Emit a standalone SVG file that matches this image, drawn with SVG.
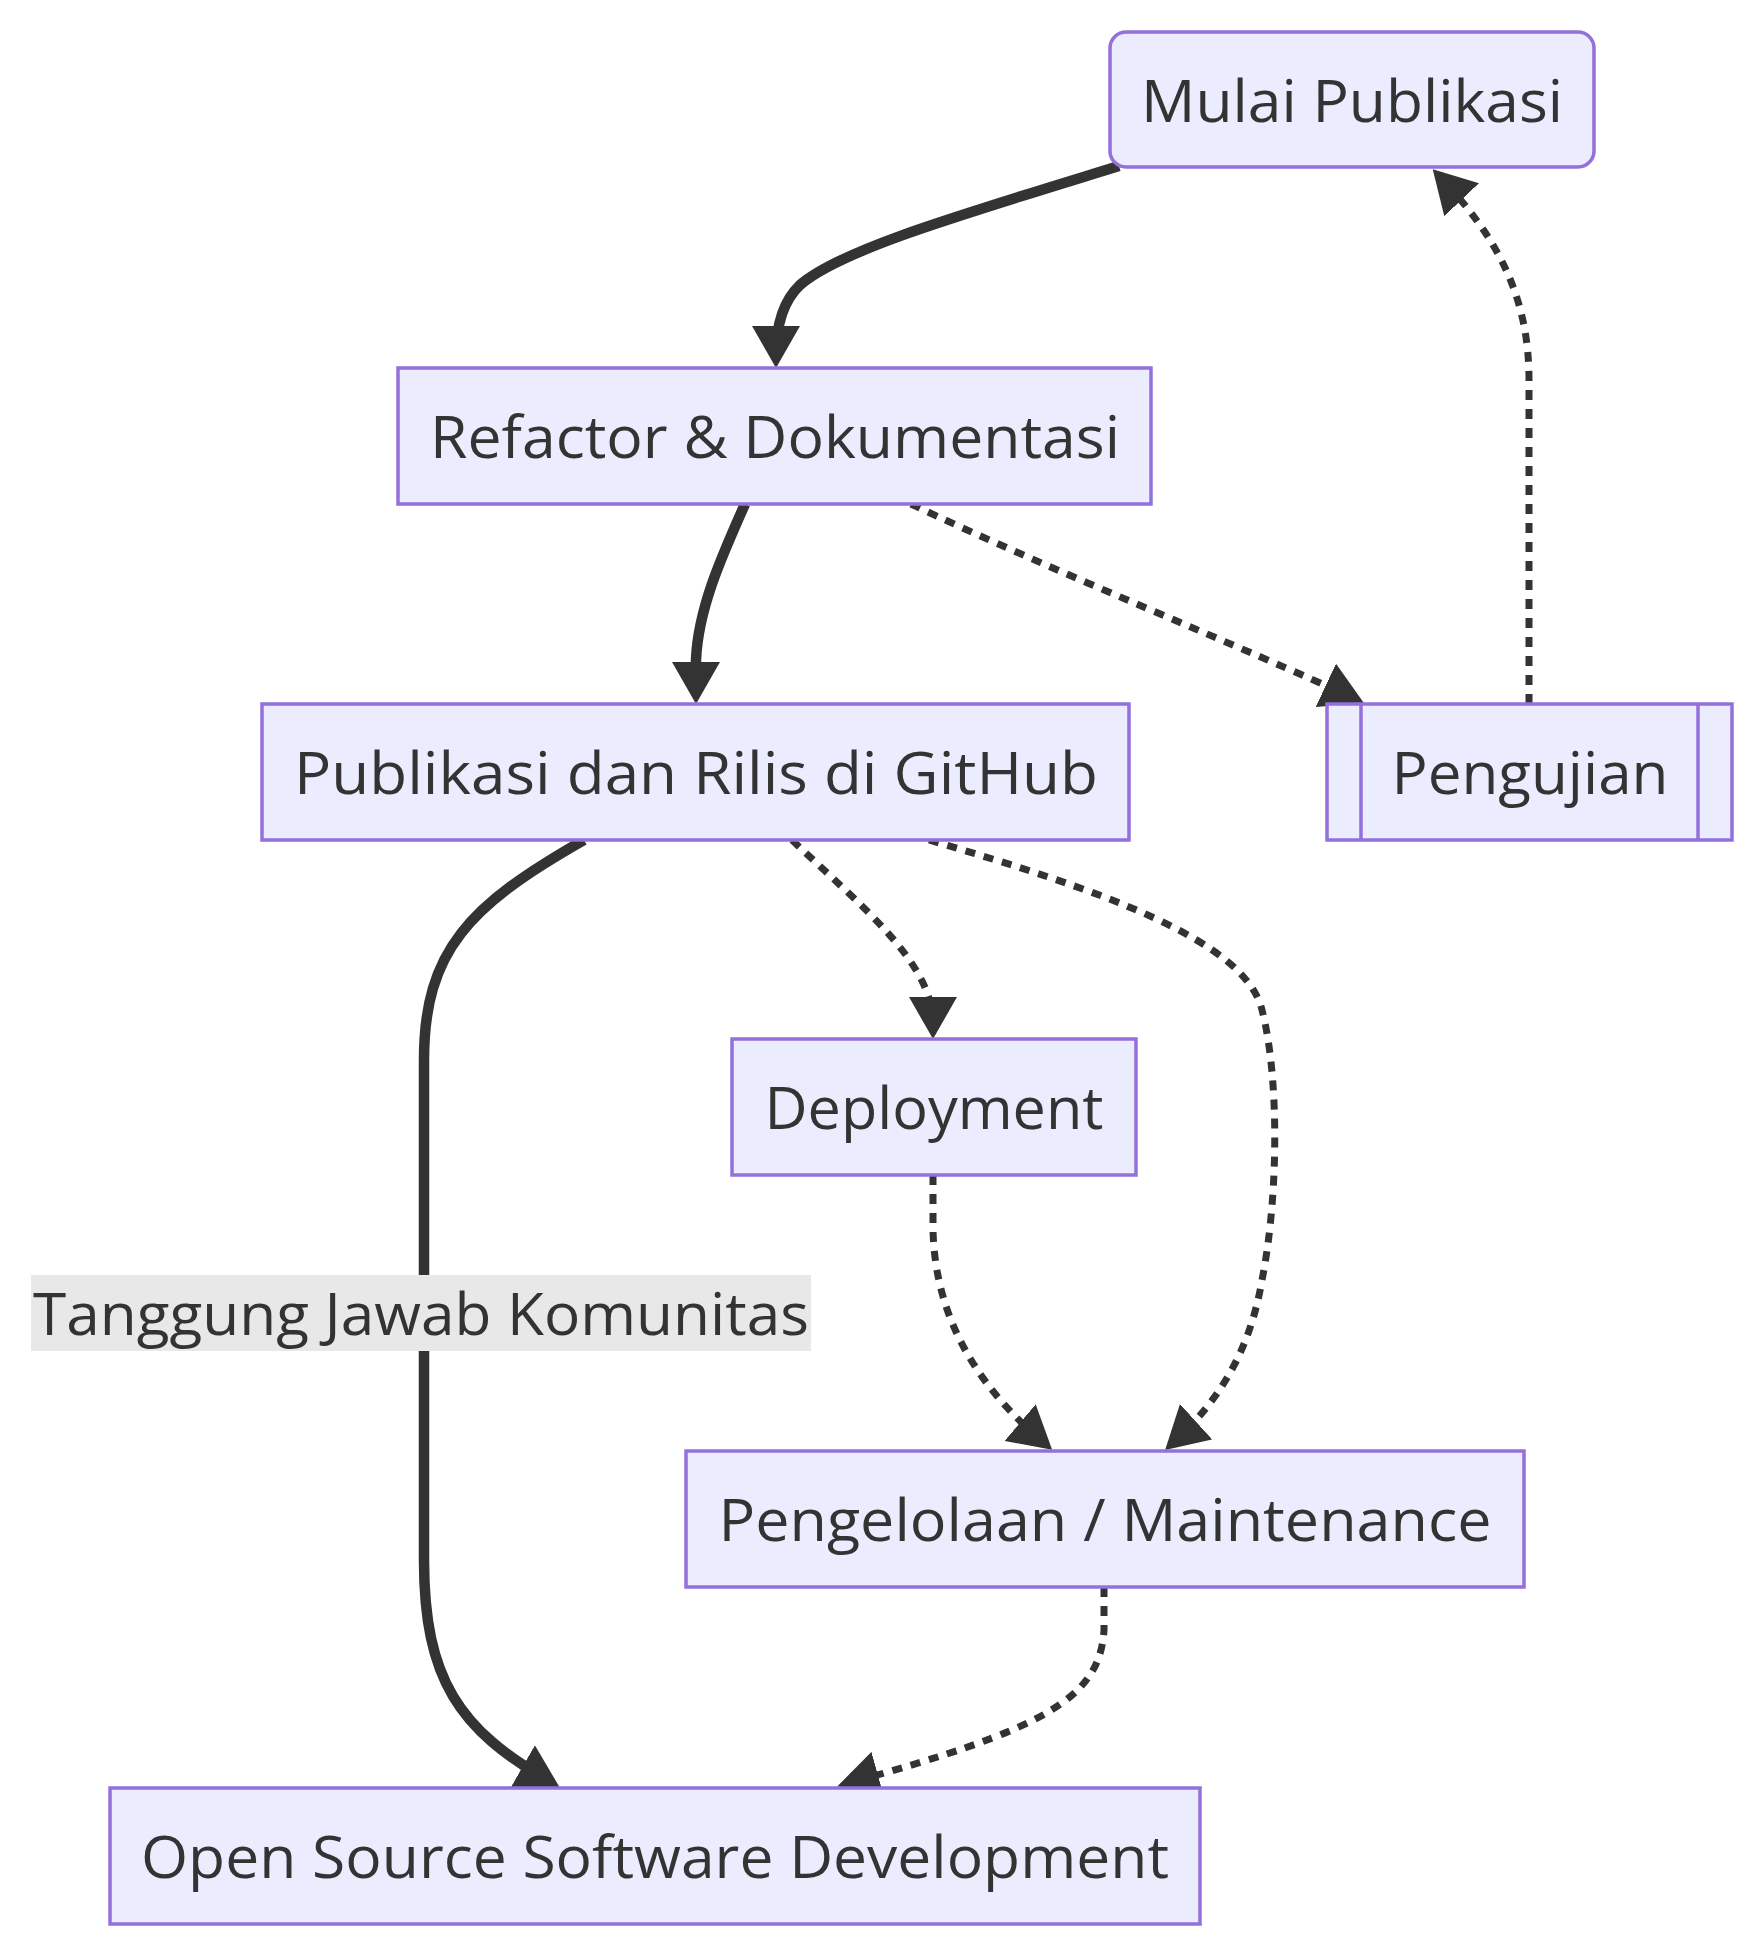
<svg xmlns="http://www.w3.org/2000/svg" width="1764" height="1956" viewBox="0 0 1764 1956">
<style>
.node rect{fill:#ECECFF;stroke:#9370DB;stroke-width:3.5;}
.node line{stroke:#9370DB;stroke-width:3.5;}
.lbl{font-family:"Open Sans","Noto Sans",sans-serif;font-size:58px;fill:#333;text-anchor:middle;}
.edge{fill:none;stroke:#333;}
.thick{stroke-width:10.5;}
.dot{stroke-width:7;stroke-dasharray:10 9;}
.elbl{fill:#e8e8e8;}
</style>
<defs>
<marker id="arr" markerUnits="userSpaceOnUse" viewBox="0 0 42 48" markerWidth="42" markerHeight="48" refX="30" refY="24" orient="auto">
<path d="M0,0 L42,24 L0,48 z" fill="#333"/>
</marker>
</defs>
<rect width="1764" height="1956" fill="#fff"/>
<g id="connectors">
<path class="edge thick" marker-end="url(#arr)" d="M1119,166 C960,215 840,250 800,285 C782,302 776,330 776,356"/>
<path class="edge thick" marker-end="url(#arr)" d="M745,504 C720,560 698,610 696,660 L696,692"/>
<path class="edge dot" marker-end="url(#arr)" d="M911,504 C1050,570 1250,650 1353,698"/>
<path class="edge dot" marker-end="url(#arr)" d="M1529,704 L1529,380 C1529,300 1500,240 1441,178"/>
<path class="edge thick" marker-end="url(#arr)" d="M584,840 C470,905 424,950 424,1060 L424,1560 C424,1680 460,1730 549,1781"/>
<path class="edge dot" marker-end="url(#arr)" d="M792,840 C860,905 930,960 933,1020 L933,1027"/>
<path class="edge dot" marker-end="url(#arr)" d="M929,840 C1100,890 1245,940 1262,1010 C1280,1080 1278,1200 1262,1280 C1250,1350 1220,1400 1174,1442"/>
<path class="edge dot" marker-end="url(#arr)" d="M933,1175 L933,1230 C935,1310 970,1380 1043,1442"/>
<path class="edge dot" marker-end="url(#arr)" d="M1104,1587 L1104,1630 C1100,1700 1040,1730 849,1783"/>
<g id="edge-label">
<rect class="elbl" x="31" y="1275" width="780" height="76"/>
<text class="lbl" x="421" y="1335" textLength="776" lengthAdjust="spacingAndGlyphs">Tanggung Jawab Komunitas</text>
</g>
</g>
<g id="mulai" class="node">
<rect x="1110" y="32" width="484" height="135" rx="16" ry="16"/>
<text class="lbl" x="1352" y="122" textLength="422" lengthAdjust="spacingAndGlyphs">Mulai Publikasi</text>
</g>
<g id="refactor" class="node">
<rect x="398" y="368" width="753" height="136"/>
<text class="lbl" x="775" y="458" textLength="690" lengthAdjust="spacingAndGlyphs">Refactor &amp; Dokumentasi</text>
</g>
<g id="publikasi" class="node">
<rect x="262" y="704" width="867" height="136"/>
<text class="lbl" x="696" y="794" textLength="804" lengthAdjust="spacingAndGlyphs">Publikasi dan Rilis di GitHub</text>
</g>
<g id="pengujian" class="node">
<rect x="1327" y="704" width="405" height="136"/>
<line x1="1361" y1="704" x2="1361" y2="840"/>
<line x1="1698" y1="704" x2="1698" y2="840"/>
<text class="lbl" x="1530" y="794" textLength="277" lengthAdjust="spacingAndGlyphs">Pengujian</text>
</g>
<g id="deployment" class="node">
<rect x="732" y="1039" width="404" height="136"/>
<text class="lbl" x="934" y="1129" textLength="339" lengthAdjust="spacingAndGlyphs">Deployment</text>
</g>
<g id="pengelolaan" class="node">
<rect x="686" y="1451" width="838" height="136"/>
<text class="lbl" x="1105" y="1541" textLength="773" lengthAdjust="spacingAndGlyphs">Pengelolaan / Maintenance</text>
</g>
<g id="opensource" class="node">
<rect x="110" y="1788" width="1090" height="136"/>
<text class="lbl" x="655" y="1878" textLength="1028" lengthAdjust="spacingAndGlyphs">Open Source Software Development</text>
</g>
</svg>
